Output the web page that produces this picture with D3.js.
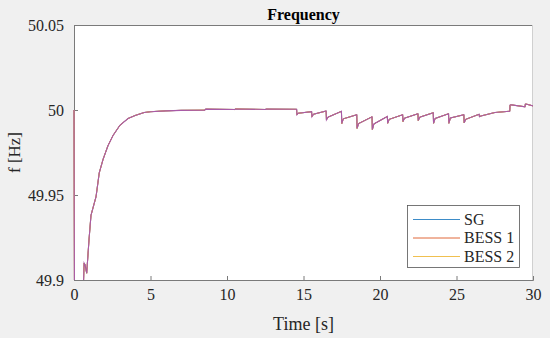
<!DOCTYPE html>
<html>
<head>
<meta charset="utf-8">
<script src="https://cdn.jsdelivr.net/npm/d3@7"></script>
<style>
  html, body { margin: 0; padding: 0; background: #f0f0f0; }
  svg { display: block; }
</style>
</head>
<body>
<svg id="chart" width="550" height="338"></svg>
<script>
// ---- data ----
const timeS = [0, 0.04, 0.5, 0.56, 0.66, 0.72, 0.83, 0.98, 1.11, 1.26, 1.44, 1.65, 1.90, 2.22, 2.55, 3.0, 3.53, 4.0, 4.58, 5.0, 6.0, 7.0, 8.55, 8.6, 10.5, 10.55, 12.5, 12.55,
  14.55, 14.57, 14.65, 15.53, 15.55, 15.65, 16.48, 16.50, 16.60, 17.48, 17.50, 17.60, 18.48, 18.50, 18.60, 19.48, 19.50, 19.60,
  20.48, 20.50, 20.60, 21.48, 21.50, 21.60, 22.48, 22.50, 22.60, 23.48, 23.50, 23.60, 24.48, 24.50, 24.60, 25.48, 25.50, 25.60,
  26.48, 26.50, 26.60, 27.50, 28.48, 28.50, 28.60, 29.48, 29.50, 29.60, 30.0];
const freqSG = [50.0, 49.86, 49.86, 49.88, 49.910, 49.909, 49.904, 49.9235, 49.938, 49.943, 49.949, 49.963, 49.971, 49.979, 49.985, 49.991, 49.995, 49.9968, 49.9985, 49.9990, 49.9995, 49.9998, 49.9999, 50.0005, 50.0003, 50.0006, 50.0003, 50.0005,
  50.0004, 49.9972, 49.9981, 49.9990, 49.9960, 49.9975, 49.9994, 49.9942, 49.9958, 49.9992, 49.9920, 49.9948, 49.9972, 49.9892, 49.9920, 49.9960, 49.9885, 49.9918,
  49.9962, 49.9922, 49.9945, 49.9972, 49.9932, 49.9952, 49.9978, 49.9938, 49.9958, 49.9984, 49.9922, 49.9950, 49.9978, 49.9922, 49.9953, 49.9972, 49.9925, 49.9945,
  49.9975, 49.9961, 49.9965, 49.9985, 49.9993, 50.0029, 50.0030, 50.0019, 50.0035, 50.0034, 50.0024];
const freqBESS1 = freqSG.slice();
const freqBESS2 = freqSG.slice();
const freqTotal = freqSG.slice();
const seriesNames = ["SG", "BESS 1", "BESS 2"];
const xTicks = [0, 5, 10, 15, 20, 25, 30];
const yTicks = [49.9, 49.95, 50, 50.05];
const yTickLabels = ["49.9", "49.95", "50", "50.05"];

// ---- layout ----
const FONT = "Liberation Serif";
const svg = d3.select("#chart");
const L = 74, R = 533, T = 25, B = 280;
const x = d3.scaleLinear().domain([0, 30]).range([L, R]);
const y = d3.scaleLinear().domain([49.9, 50.05]).range([B, T]);
const colors = ["#3d8cc8", "#e0693a", "#f0c050"];
const topColor = "#a85aa8";
const axisColor = "#7a7a7a";

svg.append("rect").attr("x", L).attr("y", T).attr("width", R - L).attr("height", B - T).attr("fill", "#fff");

svg.append("defs").append("clipPath").attr("id", "clip")
  .append("rect").attr("x", L - 1).attr("y", T).attr("width", R - L + 1).attr("height", B - T);

// axes (drawn beneath the data)
const xAxis = svg.append("g").attr("transform", `translate(0,${B})`)
  .call(d3.axisBottom(x).tickValues(xTicks).tickSize(-4).tickPadding(9).tickFormat(d3.format("d")));
const yAxis = svg.append("g").attr("transform", `translate(${L},0)`)
  .call(d3.axisLeft(y).tickValues(yTicks).tickSize(-4).tickPadding(10).tickFormat((d, i) => yTickLabels[i]));
[xAxis, yAxis].forEach(a => {
  a.attr("font-family", FONT).attr("font-size", 16);
  a.select(".domain").attr("stroke", axisColor);
  a.selectAll(".tick line").attr("stroke", axisColor);
  a.selectAll(".tick text").attr("font-family", FONT).attr("font-size", 16).attr("fill", "#262626");
});
svg.append("line").attr("x1", L).attr("x2", R).attr("y1", T + 0.5).attr("y2", T + 0.5).attr("stroke", axisColor);
svg.append("line").attr("x1", R - 0.5).attr("x2", R - 0.5).attr("y1", T).attr("y2", B).attr("stroke", "#d0d0d0");

const line = d3.line().x(d => x(d[0])).y(d => y(d[1]));
const allSeries = [freqSG, freqBESS1, freqBESS2];
const g = svg.append("g").attr("clip-path", "url(#clip)");
allSeries.forEach((vals, i) => {
  g.append("path").datum(timeS.map((t, j) => [t, vals[j]]))
    .attr("d", line).attr("fill", "none").attr("stroke", colors[i]).attr("stroke-width", 1);
});
g.append("path").datum(timeS.map((t, j) => [t, freqTotal[j]]))
  .attr("d", line).attr("fill", "none").attr("stroke", topColor).attr("stroke-width", 1.1);

// labels
svg.append("text").attr("x", (L + R) / 2).attr("y", 20).attr("text-anchor", "middle")
  .attr("font-family", FONT).attr("font-size", 16).attr("font-weight", "bold").attr("fill", "#000").text("Frequency");
svg.append("text").attr("x", (L + R) / 2).attr("y", 330).attr("text-anchor", "middle")
  .attr("font-family", FONT).attr("font-size", 18).attr("fill", "#262626").text("Time [s]");
svg.append("text").attr("transform", `translate(20,${(T + B) / 2}) rotate(-90)`).attr("text-anchor", "middle")
  .attr("font-family", FONT).attr("font-size", 17).attr("fill", "#262626").text("f [Hz]");

// legend
const lg = svg.append("g");
lg.append("rect").attr("x", 407.5).attr("y", 205.5).attr("width", 112).attr("height", 62)
  .attr("fill", "#fff").attr("stroke", "#555").attr("stroke-width", 0.8);
seriesNames.forEach((n, i) => {
  const yy = 219.5 + i * 18.5;
  lg.append("line").attr("x1", 413).attr("x2", 460).attr("y1", yy).attr("y2", yy)
    .attr("stroke", colors[i]).attr("stroke-width", 1);
  lg.append("text").attr("x", 464).attr("y", yy + 5).attr("font-family", FONT).attr("font-size", 16)
    .attr("fill", "#262626").text(n);
});
</script>
</body>
</html>
